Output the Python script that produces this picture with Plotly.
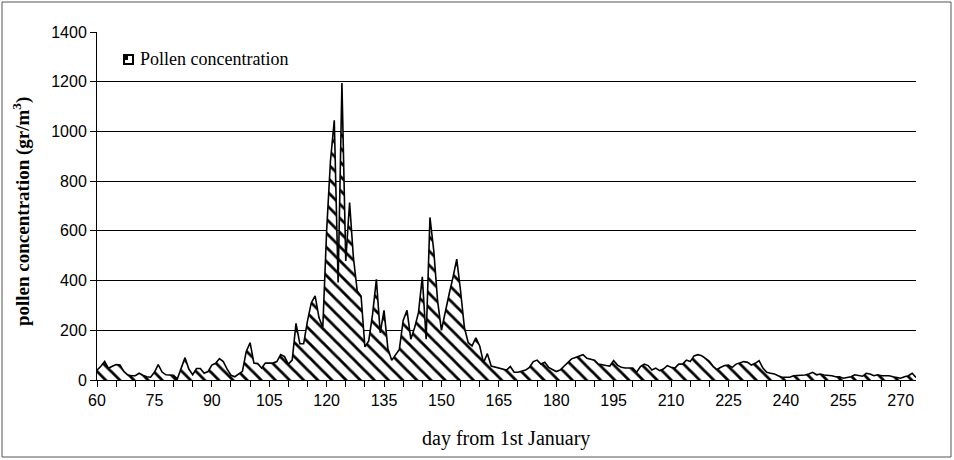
import plotly.graph_objects as go

days = list(range(60, 275))
pollen = [
    40, 55, 75, 47, 55, 62, 60, 35, 21, 17,        # 60-69
    17, 27, 19, 13, 11, 31, 62, 32, 21, 21,        # 70-79
    19, 5, 44, 90, 44, 21, 46, 46, 27, 34,         # 80-89
    60, 67, 86, 74, 44, 19, 13, 24, 35, 115,       # 90-99
    150, 68, 66, 48, 68, 68, 68, 74, 102, 94,      # 100-109
    64, 80, 228, 146, 146, 238, 311, 338, 251, 211,  # 110-119
    600, 880, 1045, 392, 1195, 479, 714, 492, 358, 338,  # 120-129
    133, 157, 264, 405, 190, 280, 127, 79, 103, 123,  # 130-139
    240, 280, 164, 211, 271, 415, 164, 654, 519, 318,  # 140-149
    200, 280, 345, 412, 486, 358, 211, 150, 137, 170,  # 150-159
    137, 70, 106, 56, 52, 50, 44, 40, 54, 31,      # 160-169
    31, 34, 40, 51, 74, 80, 64, 71, 51, 42,        # 170-179
    34, 40, 54, 71, 85, 91, 98, 102, 87, 85,       # 180-189
    80, 64, 60, 58, 56, 78, 60, 51, 48, 48,        # 190-199
    48, 31, 54, 64, 58, 40, 48, 38, 44, 58,        # 200-209
    51, 48, 64, 64, 80, 74, 97, 102, 98, 87,       # 210-219
    75, 55, 42, 51, 58, 60, 51, 64, 70, 74,        # 220-229
    71, 60, 67, 78, 48, 31, 27, 24, 17, 11,        # 230-239
    11, 11, 17, 17, 20, 20, 24, 31, 21, 24,        # 240-249
    20, 20, 17, 13, 13, 7, 11, 13, 21, 17,         # 250-259
    15, 27, 24, 17, 21, 17, 17, 17, 13, 11,        # 260-269
    7, 13, 17, 27, 10,                             # 270-274
]
x_tick_vals = list(range(60, 271, 15))
y_tick_vals = list(range(0, 1401, 200))
series_name = "Pollen concentration"
x_title = "day from 1st January"
y_title = "<b>pollen concentration (gr/m<sup>3</sup>)</b>"

fig = go.Figure()
fig.add_trace(go.Scatter(
    x=days, y=pollen, mode="lines", name=series_name, showlegend=False,
    line=dict(color="black", width=1.6),
    fill="tozeroy", fillcolor="white",
    fillpattern=dict(shape="\\", fgcolor="black", bgcolor="white", size=10, solidity=0.28, fillmode="replace"),
))

W, H = 954, 460
L, R, T, B = 97, 916, 32, 380
pw, ph = R - L, B - T

def px(xp):
    return (xp - L) / pw

def py(yp):
    return (B - yp) / ph

# outer chart border
fig.add_shape(type="rect", xref="paper", yref="paper",
              x0=px(2), x1=px(951), y0=py(457), y1=py(2),
              line=dict(color="#555555", width=1), layer="below")

# legend key (manual)
fig.add_shape(type="rect", xref="paper", yref="paper",
              x0=px(124), x1=px(133), y0=py(64), y1=py(55),
              line=dict(color="black", width=2), fillcolor="white")
fig.add_shape(type="rect", xref="paper", yref="paper",
              x0=px(124), x1=px(128), y0=py(60), y1=py(55),
              line=dict(width=0), fillcolor="black")
fig.add_annotation(xref="paper", yref="paper", x=px(138), y=py(59.5),
                   xanchor="left", yanchor="middle", showarrow=False,
                   text=series_name,
                   font=dict(family="Liberation Serif", size=18, color="black"))

# axis titles
fig.add_annotation(xref="paper", yref="paper", x=px(506), y=py(438),
                   xanchor="center", yanchor="middle", showarrow=False,
                   text=x_title,
                   font=dict(family="Liberation Serif", size=20, color="black"))
fig.add_annotation(xref="paper", yref="paper", x=px(22), y=py(212),
                   xanchor="center", yanchor="middle", showarrow=False, textangle=-90,
                   text=y_title,
                   font=dict(family="Liberation Serif", size=19, color="black"))

fig.update_layout(
    width=W, height=H,
    margin=dict(l=L, r=W - R, t=T, b=H - B, autoexpand=False),
    paper_bgcolor="white", plot_bgcolor="white",
    showlegend=False,
    xaxis=dict(range=[60, 274], tickvals=x_tick_vals, ticks="outside", ticklen=6,
               tickcolor="black", showline=True, linecolor="black", linewidth=1,
               showgrid=False, zeroline=False, automargin=False,
               minor=dict(dtick=5, tick0=60, ticks="outside", ticklen=6, tickcolor="black", showgrid=False),
               tickfont=dict(family="Liberation Sans", size=16, color="black")),
    yaxis=dict(range=[0, 1400], tickvals=y_tick_vals, ticks="outside", ticklen=6,
               tickcolor="black", showline=True, linecolor="black", linewidth=1,
               showgrid=True, gridcolor="black", gridwidth=1, zeroline=False, automargin=False,
               tickfont=dict(family="Liberation Sans", size=16, color="black")),
)

fig.write_html("out.html", config={"displayModeBar": False},
               post_script="document.body.style.margin='0px';document.body.style.overflow='hidden';")
